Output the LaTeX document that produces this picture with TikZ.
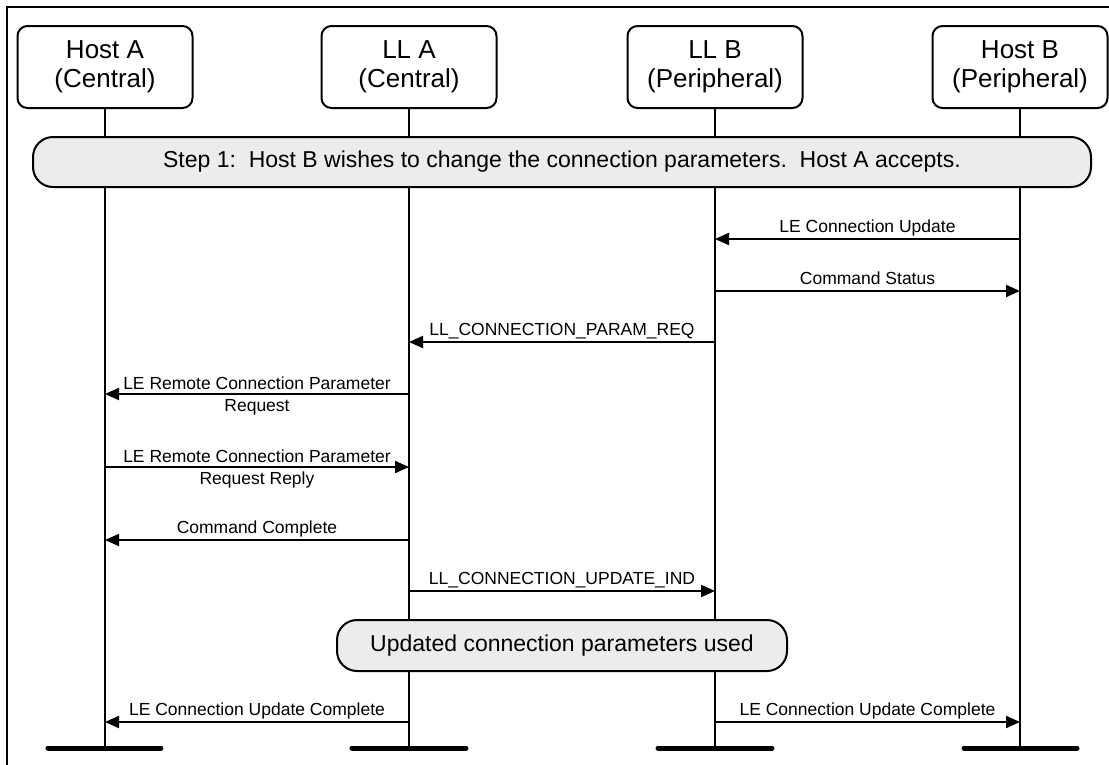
\documentclass[tikz,border=0pt]{standalone}
\usepackage{fontspec}
\setmainfont{Liberation Sans}
\usetikzlibrary{arrows.meta,calc}
\definecolor{bannergray}{RGB}{236,236,236}
\begin{document}
\begin{tikzpicture}[x=1pt,y=-1pt,
  actor/.style={draw,line width=2pt,rounded corners=10pt,fill=white,minimum width=175pt,minimum height=82pt,inner sep=0pt,align=center,font=\fontsize{26}{29}\selectfont},
  life/.style={line width=2pt},
  endbar/.style={line width=5pt,line cap=round},
  banner/.style={draw,line width=2pt,rounded corners=20pt,fill=bannergray,inner sep=0pt,font=\fontsize{23}{27}\selectfont},
  msg/.style={line width=2pt,-{Triangle[length=14pt,width=12pt]}},
  lbl/.style={font=\fontsize{17.5}{21.5}\selectfont,inner sep=0pt,align=center},
  lblone/.style={lbl,anchor=base,yshift=6.5pt},
  lbltwo/.style={lbl,anchor=center,yshift=-2pt},
]
\useasboundingbox (0,0) rectangle (1109,764);
\draw[line width=2pt] (7,780) -- (7,7) -- (1120,7);

% actors
\node[actor] (hA) at (105,67) {Host A\\(Central)};
\node[actor] (lA) at (409,67) {LL A\\(Central)};
\node[actor] (lB) at (715,67) {LL B\\(Peripheral)};
\node[actor] (hB) at (1020,67) {Host B\\(Peripheral)};

% lifeline ends
\coordinate (hAe) at (105,748);
\coordinate (lAe) at (409,748);
\coordinate (lBe) at (715,748);
\coordinate (hBe) at (1020,748);

\draw[life] (hA.south) -- (hAe);
\draw[life] (lA.south) -- (lAe);
\draw[life] (lB.south) -- (lBe);
\draw[life] (hB.south) -- (hBe);

\draw[endbar] ($(hAe)+(-57,0)$) -- ($(hAe)+(56,0)$);
\draw[endbar] ($(lAe)+(-57,0)$) -- ($(lAe)+(57,0)$);
\draw[endbar] ($(lBe)+(-57,0)$) -- ($(lBe)+(57,0)$);
\draw[endbar] ($(hBe)+(-56,0)$) -- ($(hBe)+(57,0)$);

% banners
\node[banner,minimum width=1058pt,minimum height=50pt] (step) at (562,162)
  {Step 1:\ \ Host B wishes to change the connection parameters.\ \ Host A accepts.};
\node[banner,minimum width=450pt,minimum height=51pt] (upd) at (562,645.5)
  {Updated connection parameters used};

% messages
\draw[msg] (hB |- 0,239) -- node[lblone] {LE Connection Update} (lB |- 0,239);
\draw[msg] (lB |- 0,291) -- node[lblone] {Command Status} (hB |- 0,291);
\draw[msg] (lB |- 0,342) -- node[lblone] {LL\_CONNECTION\_PARAM\_REQ} (lA |- 0,342);
\draw[msg] (lA |- 0,394) -- node[lbltwo] {LE Remote Connection Parameter\\Request} (hA |- 0,394);
\draw[msg] (hA |- 0,467) -- node[lbltwo] {LE Remote Connection Parameter\\Request Reply} (lA |- 0,467);
\draw[msg] (lA |- 0,540) -- node[lblone] {Command Complete} (hA |- 0,540);
\draw[msg] (lA |- 0,591) -- node[lblone] {LL\_CONNECTION\_UPDATE\_IND} (lB |- 0,591);
\draw[msg] (lA |- 0,722) -- node[lblone] {LE Connection Update Complete} (hA |- 0,722);
\draw[msg] (lB |- 0,722) -- node[lblone] {LE Connection Update Complete} (hB |- 0,722);
\end{tikzpicture}
\end{document}
